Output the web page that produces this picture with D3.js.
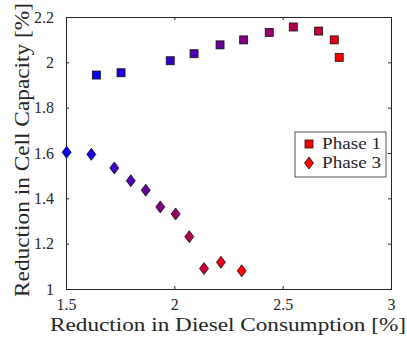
<!DOCTYPE html>
<html><head><meta charset="utf-8">
<script src="https://cdn.jsdelivr.net/npm/d3@7"></script>
<style>body{margin:0;background:#fff}text{font-family:"Liberation Serif","DejaVu Serif",serif}</style>
</head><body><svg id="c" width="407" height="343"></svg>
<script>
const phase1X = [1.640,1.754,1.981,2.091,2.211,2.320,2.438,2.549,2.666,2.738,2.761];
const phase1Y = [1.944,1.954,2.007,2.038,2.077,2.099,2.132,2.156,2.138,2.099,2.022];
const phase3X = [1.503,1.617,1.723,1.799,1.868,1.935,2.006,2.069,2.137,2.215,2.311];
const phase3Y = [1.603,1.594,1.534,1.478,1.436,1.362,1.331,1.231,1.090,1.118,1.080];
const xTicks = [1.5,2,2.5,3];
const yTicks = [1,1.2,1.4,1.6,1.8,2,2.2];
const legendLabels = ["Phase 1","Phase 3"];

const svg = d3.select("#c");
const L=66,R=391,T=17,B=289;
const x = d3.scaleLinear().domain([1.5,3]).range([L,R]);
const y = d3.scaleLinear().domain([1,2.2]).range([B,T]);
const col = i => d3.interpolateRgb("rgb(0,0,255)","rgb(255,0,0)")(i/10);
const axc="#262626";

// axes
const gx = svg.append("g").attr("transform",`translate(0,${B})`)
  .call(d3.axisBottom(x).tickValues(xTicks).tickSize(-3).tickPadding(12).tickFormat(d3.format("")));
const gxt = svg.append("g").attr("transform",`translate(0,${T})`)
  .call(d3.axisTop(x).tickValues(xTicks).tickSize(-3).tickFormat(""));
const gy = svg.append("g").attr("transform",`translate(${L},0)`)
  .call(d3.axisLeft(y).tickValues(yTicks).tickSize(-3).tickPadding(12).tickFormat(d3.format("")));
const gyr = svg.append("g").attr("transform",`translate(${R},0)`)
  .call(d3.axisRight(y).tickValues(yTicks).tickSize(-3).tickFormat(""));
[gx,gxt,gy,gyr].forEach(g=>{
  g.select(".domain").attr("stroke",axc);
  g.selectAll(".tick line").attr("stroke",axc);
  g.selectAll("text").attr("fill",axc).style("font-size","16px").style("font-family","'Liberation Serif',serif");
});
gx.selectAll(".tick text").attr("y",21).attr("dy",0);
gy.selectAll(".tick text").attr("x",-12);

// labels
svg.append("text").attr("x",228).attr("y",331).attr("text-anchor","middle")
  .attr("fill",axc).style("font-size","19px")
  .attr("textLength",356).attr("lengthAdjust","spacingAndGlyphs")
  .text("Reduction in Diesel Consumption [%]");
svg.append("text").attr("transform",`translate(29,150) rotate(-90)`).attr("text-anchor","middle")
  .attr("fill",axc).style("font-size","20px")
  .attr("textLength",294).attr("lengthAdjust","spacingAndGlyphs")
  .text("Reduction in Cell Capacity [%]");

// markers
const sq = 8;
svg.append("g").selectAll("rect").data(phase1X).join("rect")
  .attr("x",(d)=>x(d)-sq/2).attr("y",(d,i)=>y(phase1Y[i])-sq/2)
  .attr("width",sq).attr("height",sq).attr("fill",(d,i)=>col(i)).attr("stroke","#111").attr("stroke-width",0.8);
const diamond = "M0,-6L4.5,0L0,6L-4.5,0Z";
svg.append("g").selectAll("path").data(phase3X).join("path")
  .attr("transform",(d,i)=>`translate(${x(d)},${y(phase3Y[i])})`)
  .attr("d",diamond).attr("fill",(d,i)=>col(i)).attr("stroke","#111").attr("stroke-width",0.8);

// legend
const lg = svg.append("g");
lg.append("rect").attr("x",295).attr("y",132).attr("width",91).attr("height",45)
  .attr("fill","#fff").attr("stroke",axc).attr("stroke-width",0.8);
lg.append("rect").attr("x",309-4).attr("y",144-4).attr("width",8).attr("height",8).attr("fill","red").attr("stroke","#111").attr("stroke-width",0.8);
lg.append("path").attr("transform","translate(309,163)").attr("d",diamond).attr("fill","red").attr("stroke","#111").attr("stroke-width",0.8);
lg.selectAll("text").data(legendLabels).join("text")
  .attr("x",322).attr("y",(d,i)=>149+i*19).attr("fill",axc).style("font-size","17px")
  .attr("textLength",59).attr("lengthAdjust","spacingAndGlyphs").text(d=>d);
</script></body></html>
